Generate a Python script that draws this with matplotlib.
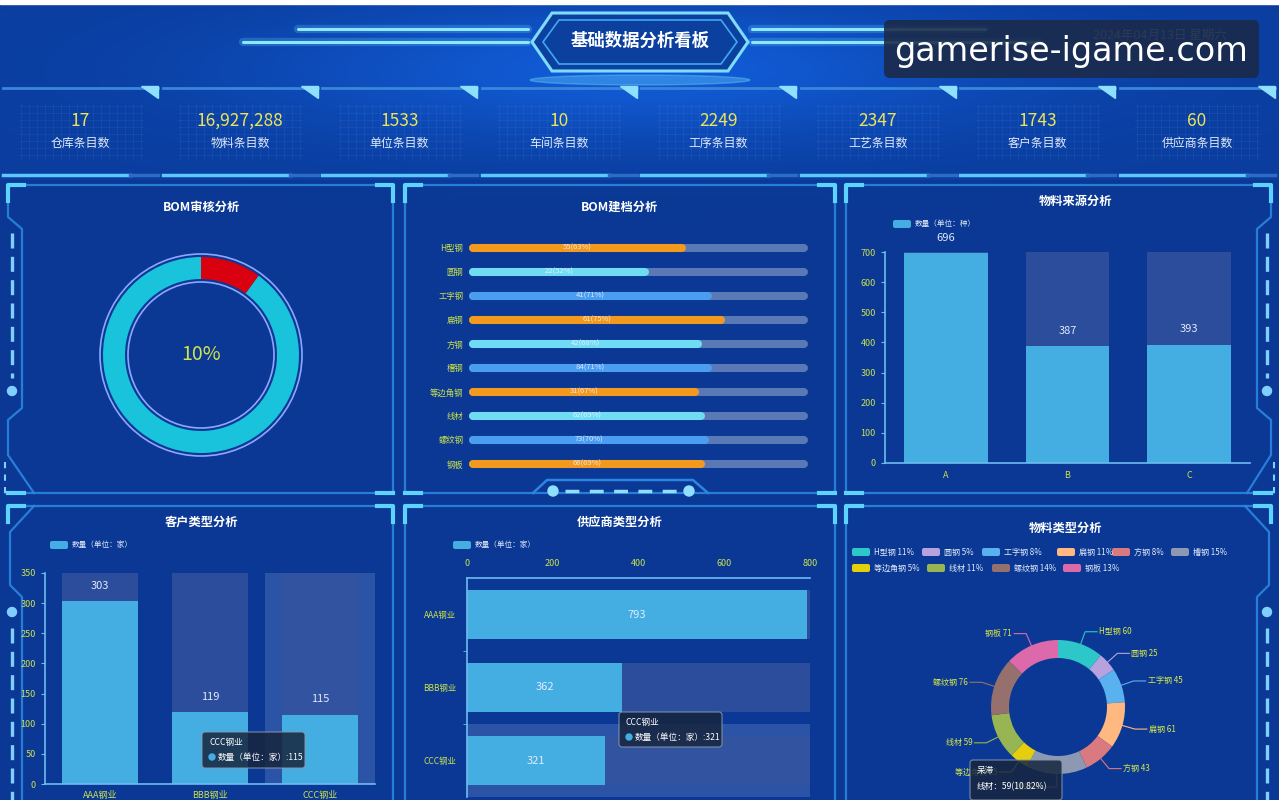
import numpy as np
import matplotlib
matplotlib.use('Agg')
import matplotlib.pyplot as plt
from matplotlib.patches import Polygon, FancyBboxPatch, Circle, Ellipse

plt.rcParams['font.family'] = ['Noto Sans CJK SC', 'DejaVu Sans']

W, H = 1279, 800

# ---------------- data ----------------
kpi_values = ['17', '16,927,288', '1533', '10', '2249', '2347', '1743', '60']
kpi_labels = ['仓库条目数', '物料条目数', '单位条目数', '车间条目数',
              '工序条目数', '工艺条目数', '客户条目数', '供应商条目数']

audit_pct = 10

bom_names = ['H型钢', '圆钢', '工字钢', '扁钢', '方钢', '槽钢', '等边角钢', '线材', '螺纹钢', '钢板']
bom_counts = [55, 22, 41, 61, 42, 84, 31, 62, 73, 66]
bom_pcts = [63, 52, 71, 75, 68, 71, 67, 69, 70, 69]

src_cats = ['A', 'B', 'C']
src_vals = [696, 387, 393]

cust_cats = ['AAA钢业', 'BBB钢业', 'CCC钢业']
cust_vals = [303, 119, 115]

supp_cats = ['AAA钢业', 'BBB钢业', 'CCC钢业']
supp_vals = [793, 362, 321]

mat_names = ['H型钢', '圆钢', '工字钢', '扁钢', '方钢', '槽钢', '等边角钢', '线材', '螺纹钢', '钢板']
mat_vals = [60, 25, 45, 61, 43, 80, 25, 59, 76, 71]
mat_colors = ['#2ec7c9', '#b6a2de', '#5ab1ef', '#ffb980', '#d87a80',
              '#8d98b3', '#e5cf0d', '#97b552', '#95706d', '#dc69aa']

# ---------------- style ----------------
BG = '#0a3a97'
LINE = '#2a86e0'
BRIGHT = '#5fd3ff'
YG = '#cbe24c'
KPI_C = '#ece35a'
TXT = '#e2eafa'
BAR_C = '#44aee3'
SHADOW_C = '#34539f'
DECO = '#7fd0ff'


def px_rect(x, y, w, h):
    return [x / W, 1 - (y + h) / H, w / W, h / H]


fig = plt.figure(figsize=(12.79, 8), dpi=100, facecolor=BG)

# background / decoration axis in pixel coordinates
ax0 = fig.add_axes([0, 0, 1, 1])
ax0.set_xlim(0, W)
ax0.set_ylim(H, 0)
ax0.axis('off')

yy, xx = np.mgrid[0:H, 0:W]
img = np.zeros((H, W, 3))
img[:] = np.array([10, 56, 148]) / 255
glow = np.exp(-((xx - 640) / 380.0) ** 2 - ((yy - 70) / 70.0) ** 2)
img += glow[..., None] * np.array([0.03, 0.12, 0.22])
img[yy < 180] += np.array([0.0, 0.02, 0.04])
img = np.clip(img, 0, 1)
ax0.imshow(img, extent=(0, W, H, 0), aspect='auto', zorder=0)
ax0.add_patch(plt.Rectangle((0, 0), W, 4, color='white', zorder=1))

# ---- header ----
for (x0, x1, y) in [(298, 528, 29), (243, 528, 42), (752, 985, 29), (752, 1040, 42)]:
    ax0.plot([x0, x1], [y, y], color=BRIGHT, lw=6, alpha=0.25, solid_capstyle='round', zorder=2)
    ax0.plot([x0, x1], [y, y], color='#8fe6ff', lw=2.2, solid_capstyle='round', zorder=3)
outer = [(532, 42), (552, 13), (728, 13), (748, 42), (728, 71), (552, 71)]
inner = [(543, 42), (559, 20), (721, 20), (737, 42), (721, 64), (559, 64)]
ax0.add_patch(Polygon(outer, closed=True, fc='#0b409f', ec='#7fdcff', lw=2.2, zorder=4))
ax0.add_patch(Polygon(inner, closed=True, fc='none', ec='#3fa8f5', lw=1.2, zorder=4))
ax0.add_patch(Ellipse((640, 80), 220, 10, color='#6fd8ff', alpha=0.35, zorder=3))
ax0.text(640, 41, '基础数据分析看板', color='white', fontsize=12.5, fontweight='bold',
         ha='center', va='center', zorder=5)

ax0.text(1160, 35, '2024年04月13日 星期六', color='#9fb4d8', fontsize=9,
         ha='center', va='center', zorder=5)
ax0.add_patch(FancyBboxPatch((884, 20), 375, 58, boxstyle='round,pad=0,rounding_size=6',
                             fc='#1b2947', ec='none', alpha=0.88, zorder=6))
ax0.text(1071, 51, 'gamerise-igame.com', color='white', fontsize=24, family='DejaVu Sans',
         ha='center', va='center', zorder=7)

# ---- KPI row ----
for i, (val, lab) in enumerate(zip(kpi_values, kpi_labels)):
    x0 = 3 + i * 159.5
    w = 155
    c = x0 + w / 2
    ax0.plot([x0, x0 + w], [88, 88], color='#3a86db', lw=2, zorder=2)
    ax0.add_patch(Polygon([(x0 + w - 17, 86), (x0 + w, 86), (x0 + w, 98)], closed=True,
                          color='#8fe0ff', zorder=3))
    for gx in np.arange(c - 60, c + 61, 8):
        ax0.plot([gx, gx], [104, 160], color='#6fa8ff', lw=0.5, alpha=0.12, zorder=2)
    for gy in np.arange(106, 160, 7):
        ax0.plot([c - 62, c + 62], [gy, gy], color='#6fa8ff', lw=0.5, alpha=0.12, zorder=2)
    ax0.text(c, 121, val, color=KPI_C, fontsize=12.5, ha='center', va='center', zorder=4)
    ax0.text(c, 143, lab, color=TXT, fontsize=8.6, ha='center', va='center', zorder=4)
    ax0.plot([x0, x0 + 0.82 * w], [175, 175], color='#5cc8ff', lw=2.5, zorder=2)
    ax0.plot([x0 + 0.82 * w, x0 + w], [175, 175], color='#2d6cc4', lw=2.5, zorder=2)


# ---- panel frames ----
def frame(x0, y0, x1, y1, left=None, right=None):
    ax0.plot([x0, x1], [y0, y0], color=LINE, lw=1.6, alpha=0.9, zorder=2)
    ax0.plot([x0, x1], [y1, y1], color=LINE, lw=1.6, alpha=0.9, zorder=2)
    if left is None:
        left = [(x0, y0), (x0, y1)]
    if right is None:
        right = [(x1, y0), (x1, y1)]
    for side in (left, right):
        ax0.plot([p[0] for p in side], [p[1] for p in side], color=LINE, lw=1.6, alpha=0.9, zorder=2)
    L = 16
    for (cx, sx) in [(x0, 1), (x1, -1)]:
        ax0.plot([cx + sx * L, cx, cx], [y0, y0, y0 + L], color=BRIGHT, lw=3, zorder=3)
        ax0.plot([cx + sx * L, cx], [y1, y1], color=BRIGHT, lw=3, zorder=3)


frame(8, 185, 393, 493,
      left=[(8, 185), (8, 217), (22, 229), (22, 408), (8, 420), (8, 455), (34, 493)])
frame(405, 185, 835, 493)
frame(846, 185, 1271, 493,
      right=[(1271, 185), (1271, 217), (1257, 229), (1257, 408), (1271, 420), (1271, 455), (1247, 493)])
frame(8, 506, 393, 812,
      left=[(34, 506), (10, 532), (10, 585), (22, 597), (22, 812)])
frame(405, 506, 835, 812)
frame(846, 506, 1271, 812,
      right=[(1245, 506), (1269, 532), (1269, 585), (1257, 597), (1257, 812)])

# side decorations
for sx in (12, 1267):
    ax0.plot([sx, sx], [233, 378], color=DECO, lw=2.4, linestyle=(0, (4.5, 2.5)), zorder=3)
    ax0.add_patch(Circle((sx, 391), 4.5, color=DECO, zorder=3))
    ax0.plot([sx, sx], [628, 800], color=DECO, lw=2.4, linestyle=(0, (4.5, 2.5)), zorder=3)
    ax0.add_patch(Circle((sx, 612), 4.5, color=DECO, zorder=3))
ax0.plot([5, 5], [462, 498], color=DECO, lw=1.5, linestyle=(0, (3, 3)), zorder=3)
ax0.plot([1274, 1274], [462, 498], color=DECO, lw=1.5, linestyle=(0, (3, 3)), zorder=3)

# bottom notch of middle-top panel
ax0.plot([533, 547, 693, 708], [493, 480, 480, 493], color=LINE, lw=1.8, zorder=3)
ax0.add_patch(Circle((553, 491), 5, color='#8fe0ff', zorder=4))
ax0.add_patch(Circle((689, 491), 5, color='#8fe0ff', zorder=4))
ax0.plot([565, 678], [491, 491], color='#8fe0ff', lw=2.5, linestyle=(0, (4, 3)), zorder=4)

# panel titles
for (tx, ty, tt) in [(201, 207, 'BOM审核分析'), (620, 207, 'BOM建档分析'), (1076, 201, '物料来源分析'),
                     (201, 522, '客户类型分析'), (620, 522, '供应商类型分析'), (1066, 528, '物料类型分析')]:
    ax0.text(tx, ty, tt, color='white', fontsize=8.8, fontweight='bold', ha='center', va='center', zorder=5)

# small legends
for (lx, ly, lt) in [(893, 224, '数量（单位：种）'), (50, 545, '数量（单位：家）'), (453, 545, '数量（单位：家）')]:
    ax0.add_patch(FancyBboxPatch((lx, ly - 4), 18, 8, boxstyle='round,pad=0,rounding_size=2',
                                 fc=BAR_C, ec='none', zorder=4))
    ax0.text(lx + 22, ly, lt, color=TXT, fontsize=5.5, va='center', zorder=5)

# ---------------- BOM审核分析 (donut) ----------------
ax1 = fig.add_axes(px_rect(201 - 115, 355 - 115, 230, 230))
ax1.pie([audit_pct, 100 - audit_pct], colors=['#d9000f', '#19c3dc'], startangle=90,
        counterclock=False, radius=98, wedgeprops=dict(width=22, linewidth=0))
ax1.set_xlim(-115, 115)
ax1.set_ylim(-115, 115)
ax1.set_aspect('equal')
ax1.axis('off')
ax1.add_patch(Circle((0, 0), 101, fill=False, ec='#8ea6ff', lw=1.2))
ax1.add_patch(Circle((0, 0), 73, fill=False, ec='#8ea6ff', lw=1.2))
ax1.text(0, 0, f'{audit_pct}%', color='#cfe44a', fontsize=14, ha='center', va='center')

# ---------------- BOM建档分析 (progress bars) ----------------
ax2 = fig.add_axes(px_rect(473, 236, 331, 240))
ax2.set_facecolor('none')
fill_cycle = ['#f39a1e', '#70dcf4', '#4a9df0']
for i, (cnt, pct) in enumerate(zip(bom_counts, bom_pcts)):
    ax2.plot([0, 100], [i, i], color='#5b78b6', lw=5.8, solid_capstyle='round', clip_on=False, zorder=1)
    ax2.plot([0, pct], [i, i], color=fill_cycle[i % 3], lw=5.8, solid_capstyle='round', clip_on=False, zorder=2)
    ax2.text(pct / 2, i, f'{cnt}({pct}%)', color='#eef3ff', alpha=0.85, fontsize=5.5,
             ha='center', va='center', zorder=3)
ax2.set_xlim(0, 100)
ax2.set_ylim(9.5, -0.5)
ax2.set_yticks(range(len(bom_names)), bom_names)
ax2.set_xticks([])
ax2.tick_params(axis='y', length=0, labelcolor=YG, labelsize=6, pad=7)
for s in ax2.spines.values():
    s.set_visible(False)


def style_axes(ax):
    ax.set_facecolor('none')
    for s in ['top', 'right']:
        ax.spines[s].set_visible(False)
    for s in ['left', 'bottom']:
        ax.spines[s].set_color('#6cbcf0')
        ax.spines[s].set_linewidth(1.2)
    ax.tick_params(colors='#6cbcf0', labelcolor=YG, labelsize=6.5, length=3)


# ---------------- 物料来源分析 ----------------
ax3 = fig.add_axes(px_rect(885, 252, 365, 211))
style_axes(ax3)
xs = np.arange(len(src_cats))
ax3.bar(xs, [700] * len(xs), width=0.69, color=SHADOW_C, alpha=0.8, zorder=1)
ax3.bar(xs, src_vals, width=0.69, color=BAR_C, zorder=2)
for x, v in zip(xs, src_vals):
    ax3.annotate(str(v), (x, v), xytext=(0, 11), textcoords='offset points', ha='center', va='center',
                 color=TXT, fontsize=8)
ax3.set_xlim(-0.5, 2.5)
ax3.set_ylim(0, 700)
ax3.set_yticks(range(0, 701, 100))
ax3.set_xticks(xs, src_cats)
ax3.tick_params(axis='x', length=0, pad=6)

# ---------------- 客户类型分析 ----------------
ax4 = fig.add_axes(px_rect(45, 573, 330, 211))
style_axes(ax4)
xs = np.arange(len(cust_cats))
ax4.bar(2, 350, width=1.0, color='#7a96d0', alpha=0.3, zorder=0)
ax4.bar(xs, [350] * len(xs), width=0.69, color=SHADOW_C, alpha=0.8, zorder=1)
ax4.bar(xs, cust_vals, width=0.69, color=BAR_C, zorder=2)
for x, v in zip(xs, cust_vals):
    ax4.annotate(str(v), (x, v), xytext=(0, 11), textcoords='offset points', ha='center', va='center',
                 color=TXT, fontsize=8)
ax4.set_xlim(-0.5, 2.5)
ax4.set_ylim(0, 350)
ax4.set_yticks(range(0, 351, 50))
ax4.set_xticks(xs, cust_cats)
ax4.tick_params(axis='x', length=0, pad=5)

# ---------------- 供应商类型分析 ----------------
ax5 = fig.add_axes(px_rect(467, 578, 343, 219))
style_axes(ax5)
ax5.spines['bottom'].set_visible(False)
ax5.spines['top'].set_visible(True)
ax5.spines['top'].set_color('#6cbcf0')
ax5.spines['top'].set_linewidth(1.2)
ys = np.arange(len(supp_cats))
ax5.barh(2, 800, height=1.0, color='#7a96d0', alpha=0.3, zorder=0)
ax5.barh(ys, [800] * len(ys), height=0.68, color=SHADOW_C, alpha=0.8, zorder=1)
ax5.barh(ys, supp_vals, height=0.68, color=BAR_C, zorder=2)
for y, v in zip(ys, supp_vals):
    ax5.text(v / 2, y, str(v), color=TXT, fontsize=8, ha='center', va='center', zorder=3)
ax5.set_xlim(0, 800)
ax5.set_ylim(2.5, -0.5)
ax5.xaxis.tick_top()
ax5.set_xticks(range(0, 801, 200))
ax5.set_yticks(ys, supp_cats)
ax5.set_yticks([0.5, 1.5], minor=True)
ax5.tick_params(axis='x', length=0, pad=7)
ax5.tick_params(axis='y', which='major', length=0, pad=8, labelsize=6)
ax5.tick_params(axis='y', which='minor', length=3, color='#6cbcf0')

# ---------------- 物料类型分析 (donut) ----------------
ax6 = fig.add_axes(px_rect(1058 - 140, 707 - 140, 280, 280))
wedges, _ = ax6.pie(mat_vals, colors=mat_colors, startangle=90, counterclock=False, radius=67,
                    wedgeprops=dict(width=18, linewidth=0))
ax6.set_xlim(-140, 140)
ax6.set_ylim(-140, 140)
ax6.set_aspect('equal')
ax6.axis('off')
for wdg, name, v in zip(wedges, mat_names, mat_vals):
    ang = np.deg2rad((wdg.theta1 + wdg.theta2) / 2)
    ca, sa = np.cos(ang), np.sin(ang)
    sgn = 1 if ca >= 0 else -1
    p0 = (67 * ca, 67 * sa)
    p1 = (80 * ca, 80 * sa)
    p2 = (p1[0] + sgn * 12, p1[1])
    ax6.plot([p0[0], p1[0], p2[0]], [p0[1], p1[1], p2[1]], color=wdg.get_facecolor(), lw=0.8)
    ax6.text(p2[0] + sgn * 2, p2[1], f'{name} {v}', color='#d8e84a', fontsize=5.8,
             ha='left' if sgn > 0 else 'right', va='center')

mat_total = sum(mat_vals)
leg_pos = [(852, 552), (922, 552), (982, 552), (1057, 552), (1112, 552), (1171, 552),
           (852, 568), (927, 568), (992, 568), (1063, 568)]
for (lx, ly), name, v, col in zip(leg_pos, mat_names, mat_vals, mat_colors):
    ax0.add_patch(FancyBboxPatch((lx, ly - 4), 18, 8, boxstyle='round,pad=0,rounding_size=2',
                                 fc=col, ec='none', zorder=4))
    ax0.text(lx + 22, ly, f'{name} {round(v / mat_total * 100)}%', color=TXT, fontsize=5.8,
             va='center', zorder=5)

# ---------------- tooltips (overlay) ----------------
axt = fig.add_axes([0, 0, 1, 1])
axt.set_xlim(0, W)
axt.set_ylim(H, 0)
axt.axis('off')
axt.set_facecolor('none')


def tooltip(x, y, w, h, line1, line2, dot=True):
    axt.add_patch(FancyBboxPatch((x, y), w, h, boxstyle='round,pad=0,rounding_size=3',
                                 fc='#17263f', ec='#8a9ab0', lw=0.8, alpha=0.85))
    axt.text(x + 7, y + 11, line1, color='white', fontsize=6.2, va='center')
    if dot:
        axt.add_patch(Circle((x + 10, y + 25), 3, color=BAR_C))
        axt.text(x + 16, y + 25, line2, color='white', fontsize=6.2, va='center')
    else:
        axt.text(x + 7, y + 27, line2, color='white', fontsize=6.2, va='center')


tooltip(202, 732, 103, 36, cust_cats[2], f'数量（单位：家）:{cust_vals[2]}')
tooltip(619, 712, 103, 35, supp_cats[2], f'数量（单位：家）:{supp_vals[2]}')
wire_pct = np.floor(mat_vals[7] / mat_total * 10000) / 100
tooltip(970, 760, 92, 40, '呆滞', f'{mat_names[7]}：{mat_vals[7]}({wire_pct:.2f}%)', dot=False)

fig.savefig('out.png', dpi=100, facecolor=BG)
